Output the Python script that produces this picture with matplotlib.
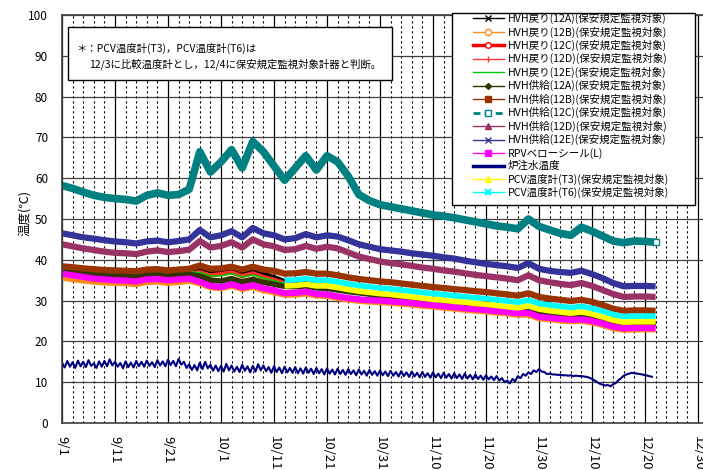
import matplotlib
matplotlib.use('Agg')
import matplotlib.pyplot as plt
from matplotlib.lines import Line2D
from matplotlib.patches import Rectangle
import numpy as np

plt.rcParams['font.family'] = ['Noto Sans CJK JP', 'DejaVu Sans']

# day offsets from 9/1
days = np.arange(0, 113, 2)          # 9/1 .. 12/22, every other day
days_pcv = np.arange(42, 113, 2)     # PCV thermometers from 10/13
days_water = np.arange(0, 112, 0.5)  # water temperature, twice a day

tick_days = np.arange(0, 121, 10)
tick_labels = ['9/1', '9/11', '9/21', '10/1', '10/11', '10/21', '10/31',
               '11/10', '11/20', '11/30', '12/10', '12/20', '12/30']

# HVH return temperatures
ret_12a = [37.6, 37.4, 37.1, 36.9, 36.7, 36.6, 36.5, 36.4, 36.8, 36.9,
           36.6, 36.8, 37.3, 37.9, 37.0, 37.4, 37.8, 36.9, 37.6, 36.6,
           35.8, 34.8, 34.2, 34.3, 33.8, 33.6, 33.1, 32.7, 32.3, 32.0,
           31.1, 30.9, 30.6, 30.3, 30.0, 29.7, 29.5, 29.2, 29.0, 28.7,
           28.5, 28.2, 27.9, 27.6, 28.1, 27.3, 26.9, 26.6, 26.3, 26.6,
           26.1, 25.4, 24.7, 24.2, 24.3, 24.3, 24.3]
ret_12b = [35.4, 35.0, 34.7, 34.4, 34.2, 34.1, 34.0, 33.8, 34.3, 34.4,
           34.1, 34.3, 34.6, 34.0, 33.0, 32.8, 33.4, 32.6, 33.1, 32.3,
           31.8, 31.2, 31.2, 31.5, 31.0, 30.9, 30.4, 30.0, 29.7, 29.5,
           29.4, 29.2, 29.0, 28.8, 28.5, 28.3, 28.0, 27.8, 27.5, 27.3,
           27.1, 26.8, 26.6, 26.3, 26.3, 25.4, 25.2, 24.9, 24.7, 24.8,
           24.4, 23.8, 23.0, 22.6, 22.7, 22.7, 22.7]
ret_12c = [37.0, 36.8, 36.5, 36.3, 36.1, 36.0, 35.9, 35.8, 36.2, 36.3,
           36.0, 36.2, 36.6, 37.0, 36.2, 36.5, 36.9, 36.0, 36.7, 35.8,
           35.1, 34.3, 33.9, 34.0, 33.5, 33.3, 32.9, 32.5, 32.1, 31.8,
           31.2, 31.0, 30.7, 30.4, 30.1, 29.8, 29.6, 29.3, 29.1, 28.8,
           28.6, 28.3, 28.0, 27.7, 28.2, 27.4, 27.0, 26.7, 26.4, 26.7,
           26.2, 25.5, 24.8, 24.3, 24.4, 24.4, 24.4]
ret_12d = [37.2, 37.0, 36.7, 36.5, 36.3, 36.2, 36.1, 36.0, 36.4, 36.5,
           36.2, 36.4, 36.8, 37.2, 36.4, 36.7, 37.1, 36.2, 36.9, 36.0,
           35.3, 34.5, 34.1, 34.2, 33.7, 33.5, 33.1, 32.7, 32.3, 32.0,
           31.3, 31.1, 30.8, 30.5, 30.2, 29.9, 29.7, 29.4, 29.2, 28.9,
           28.7, 28.4, 28.1, 27.8, 28.3, 27.5, 27.1, 26.8, 26.5, 26.8,
           26.3, 25.6, 24.9, 24.4, 24.5, 24.5, 24.5]
ret_12e = [37.5, 37.3, 37.0, 36.8, 36.6, 36.5, 36.4, 36.3, 36.7, 36.8,
           36.5, 36.7, 37.0, 36.9, 36.0, 36.1, 36.6, 35.8, 36.3, 35.5,
           34.9, 34.2, 33.9, 34.0, 33.5, 33.3, 32.9, 32.5, 32.1, 31.8,
           31.4, 31.2, 30.9, 30.6, 30.3, 30.0, 29.8, 29.5, 29.3, 29.0,
           28.8, 28.5, 28.2, 27.9, 28.4, 27.6, 27.2, 26.9, 26.6, 26.9,
           26.4, 25.7, 25.0, 24.5, 24.6, 24.6, 24.6]

# HVH supply temperatures
sup_12a = [37.0, 36.8, 36.5, 36.3, 36.1, 36.0, 35.9, 35.8, 36.2, 36.3,
           36.0, 36.2, 36.4, 36.0, 35.0, 34.8, 35.4, 34.6, 35.2, 34.5,
           34.0, 33.5, 33.4, 33.6, 33.1, 33.0, 32.6, 32.2, 31.9, 31.6,
           31.0, 30.8, 30.5, 30.2, 29.9, 29.6, 29.4, 29.1, 28.9, 28.6,
           28.4, 28.1, 27.8, 27.5, 28.0, 27.2, 26.8, 26.5, 26.2, 26.5,
           26.0, 25.3, 24.6, 24.1, 24.2, 24.2, 24.2]
sup_12b = [38.4, 38.2, 37.9, 37.7, 37.5, 37.4, 37.3, 37.2, 37.6, 37.7,
           37.4, 37.6, 37.8, 38.6, 37.8, 37.9, 38.3, 37.6, 38.3, 37.6,
           37.3, 36.6, 36.7, 37.0, 36.6, 36.6, 36.2, 35.7, 35.3, 35.0,
           34.7, 34.5, 34.2, 33.9, 33.6, 33.3, 33.1, 32.8, 32.6, 32.3,
           32.1, 31.8, 31.5, 31.2, 31.8, 30.9, 30.5, 30.2, 29.9, 30.2,
           29.7, 28.9, 28.0, 27.5, 27.6, 27.6, 27.5]
sup_12c = [58.2, 57.5, 56.6, 55.8, 55.3, 55.0, 54.8, 54.4, 55.8, 56.4,
           55.8, 56.0, 57.3, 66.5, 61.5, 64.0, 67.0, 62.5, 69.0, 66.5,
           63.0, 59.5, 62.5, 65.5, 62.0, 65.5, 64.0, 60.5, 56.0, 54.5,
           53.5, 53.0, 52.5, 52.0, 51.5, 51.0, 50.7, 50.3, 49.8, 49.3,
           48.8, 48.3, 48.0, 47.6, 50.0, 48.2, 47.3, 46.5, 46.0, 48.0,
           47.0, 45.8, 44.6, 44.2, 44.6, 44.5, 44.3]
sup_12d = [43.8, 43.3, 42.8, 42.4, 42.0, 41.7, 41.6, 41.4, 42.0, 42.3,
           41.9, 42.1, 42.5, 44.6, 43.0, 43.4, 44.3, 43.0, 45.0, 43.8,
           43.3, 42.4, 42.6, 43.4, 42.7, 43.2, 42.8, 41.8, 40.8, 40.2,
           39.6, 39.2, 38.9, 38.5, 38.1, 37.8, 37.4, 37.1, 36.7, 36.3,
           36.0, 35.7, 35.4, 35.0, 36.2, 35.0, 34.5, 34.1, 33.8, 34.3,
           33.6, 32.6, 31.6, 30.9, 31.0, 31.0, 30.9]
sup_12e = [46.5, 46.0, 45.5, 45.2, 44.8, 44.5, 44.3, 44.0, 44.5, 44.7,
           44.3, 44.6, 45.0, 47.3, 45.5, 46.0, 47.0, 45.5, 47.8, 46.5,
           46.0, 45.0, 45.3, 46.3, 45.5, 46.0, 45.7, 44.8, 43.8, 43.2,
           42.6, 42.3, 42.0, 41.6, 41.3, 41.0, 40.6, 40.3, 39.8, 39.4,
           39.0, 38.7, 38.4, 38.0, 39.2, 37.8, 37.3, 37.0, 36.8, 37.3,
           36.5, 35.5, 34.3, 33.5, 33.6, 33.6, 33.5]

rpv_bellows = [36.6, 36.2, 35.8, 35.4, 35.2, 35.0, 34.9, 34.7, 35.2, 35.3,
               35.0, 35.2, 35.4, 34.6, 33.6, 33.3, 34.0, 33.2, 33.8, 33.0,
               32.5, 31.8, 31.9, 32.2, 31.6, 31.5, 31.0, 30.6, 30.3, 30.1,
               30.0, 29.8, 29.6, 29.4, 29.1, 28.9, 28.6, 28.4, 28.1, 27.9,
               27.7, 27.4, 27.2, 26.9, 27.0, 26.0, 25.8, 25.5, 25.3, 25.4,
               25.0, 24.4, 23.6, 23.2, 23.3, 23.3, 23.2]

water = [14.8, 13.6, 15.2, 13.8, 14.9, 13.5, 15.3, 13.9, 15.0, 13.7, 15.4, 14.0, 14.6, 13.5, 15.1, 13.8, 15.2, 13.9, 15.6, 14.1,
         15.0, 13.8, 14.7, 13.4, 15.1, 13.7, 14.8, 13.6, 15.2, 13.9, 15.0, 13.8, 15.3, 14.0, 14.9, 13.7, 15.4, 14.1, 15.1, 13.9,
         15.5, 14.2, 15.2, 13.9, 15.7, 14.3, 15.0, 13.5, 14.4, 13.0, 14.2, 12.9, 14.8, 13.2, 15.0, 13.4, 14.3, 12.8, 14.1, 12.7,
         14.0, 12.6, 14.5, 12.9, 14.1, 12.6, 13.8, 12.5, 14.3, 12.8, 13.9, 12.4, 14.0, 12.6, 14.4, 12.9, 14.1, 12.7, 13.7, 12.3,
         13.9, 12.5, 13.6, 12.2, 13.8, 12.4, 13.5, 12.3, 13.7, 12.2, 13.4, 12.1, 13.6, 12.3, 13.3, 12.0, 13.5, 12.2, 13.2, 11.9,
         13.4, 12.1, 13.1, 11.9, 13.3, 12.0, 13.0, 11.8, 13.2, 12.0, 12.9, 11.7, 13.1, 11.9, 12.8, 11.6, 13.0, 11.8, 12.7, 11.6,
         12.9, 11.7, 12.6, 11.5, 12.8, 11.6, 12.5, 11.4, 12.7, 11.5, 12.4, 11.3, 12.6, 11.4, 12.3, 11.2, 12.5, 11.3, 12.2, 11.1,
         12.4, 11.2, 12.1, 11.0, 12.3, 11.1, 12.0, 10.9, 12.2, 11.0, 11.9, 10.8, 12.1, 10.9, 11.8, 10.7, 11.9, 10.8, 11.6, 10.6,
         11.7, 10.7, 11.4, 10.5, 11.5, 10.4, 11.0, 10.0, 10.4, 9.7, 10.8, 10.2, 11.5, 11.0, 12.0, 11.6, 12.4, 12.0, 12.9, 12.5,
         13.2, 12.6, 12.5, 12.0, 12.1, 11.9, 11.9, 11.8, 11.8, 11.7, 11.7, 11.6, 11.7, 11.5, 11.6, 11.5, 11.5, 11.4, 11.3, 11.1,
         10.8, 10.4, 10.0, 9.6, 9.4, 9.2, 9.3, 9.0, 9.5, 9.8, 10.5, 11.0, 11.6, 11.9, 12.1, 12.3, 12.2, 12.1, 12.0, 11.9,
         11.7, 11.6, 11.4, 11.3]

pcv_t3 = [33.6, 33.7, 34.0, 33.6, 33.6, 33.2, 32.7, 32.3, 32.0,
          31.7, 31.5, 31.2, 30.9, 30.6, 30.3, 30.1, 29.8, 29.6, 29.3,
          29.1, 28.8, 28.5, 28.2, 28.7, 27.9, 27.5, 27.2, 26.9, 27.2,
          26.7, 26.0, 25.2, 24.7, 24.8, 24.8, 24.8]
pcv_t6 = [35.0, 35.1, 35.4, 35.0, 35.0, 34.6, 34.1, 33.7, 33.4,
          33.1, 32.9, 32.6, 32.3, 32.0, 31.7, 31.5, 31.2, 31.0, 30.7,
          30.5, 30.2, 29.9, 29.6, 30.1, 29.3, 28.9, 28.6, 28.3, 28.6,
          28.1, 27.4, 26.6, 26.1, 26.2, 26.2, 26.2]

labels = ['HVH戻り(12A)(保安規定監視対象)', 'HVH戻り(12B)(保安規定監視対象)',
          'HVH戻り(12C)(保安規定監視対象)', 'HVH戻り(12D)(保安規定監視対象)',
          'HVH戻り(12E)(保安規定監視対象)', 'HVH供給(12A)(保安規定監視対象)',
          'HVH供給(12B)(保安規定監視対象)', 'HVH供給(12C)(保安規定監視対象)',
          'HVH供給(12D)(保安規定監視対象)', 'HVH供給(12E)(保安規定監視対象)',
          'RPVベローシール(L)', '炉注水温度',
          'PCV温度計(T3)(保安規定監視対象)', 'PCV温度計(T6)(保安規定監視対象)']

# (x, y, color, band width, legend style)
series = [
    (days, ret_12a, 'black', 3.0, dict(lw=1, marker='x', ms=4)),
    (days, ret_12b, '#FF8C1A', 3.0, dict(lw=1, marker='o', ms=4.5, mfc='white')),
    (days, ret_12c, '#FF0000', 3.0, dict(lw=2.5, marker='o', ms=4, mfc='white')),
    (days, ret_12d, '#FF3333', 1.5, dict(lw=1, marker='|', ms=5)),
    (days, ret_12e, '#00CC00', 1.2, dict(lw=1)),
    (days, sup_12a, '#333300', 4.0, dict(lw=1, marker='D', ms=3)),
    (days, sup_12b, '#993300', 4.5, dict(lw=1, marker='s', ms=5)),
    (days, sup_12c, '#008080', 5.5, dict(lw=2, ls=(0, (2.5, 1.5)), marker='s', ms=4.5, mfc='white')),
    (days, sup_12d, '#993366', 4.5, dict(lw=1, marker='^', ms=5)),
    (days, sup_12e, '#333399', 4.5, dict(lw=1, marker='x', ms=4)),
    (days, rpv_bellows, '#FF00FF', 4.5, dict(lw=1, marker='s', ms=5)),
    (days_water, water, '#000080', 1.5, dict(lw=2.5)),
    (days_pcv, pcv_t3, '#FFFF00', 4.0, dict(lw=1, marker='^', ms=5)),
    (days_pcv, pcv_t6, '#00FFFF', 4.0, dict(lw=1, marker='x', ms=5, mew=1.5)),
]

fig = plt.figure(figsize=(7.03, 4.70), dpi=100)
px = 5.3  # pixels per day
ax = fig.add_axes([62 / 703, 47 / 470, 122.4 * px / 703, 408 / 470])

for x, y, color, lw, _ in series:
    ax.plot(x, y, color=color, lw=lw, solid_joinstyle='round', solid_capstyle='butt')
# open square at the end of the 12C supply trace
ax.plot(days[-1:], sup_12c[-1:], 's', ms=5, mfc='white', mec='#008080', mew=1)

ax.set_xlim(0, 122.4)
ax.set_ylim(0, 100)
ax.set_xticks(tick_days)
ax.set_xticklabels(tick_labels, rotation=270, fontsize=9.5)
ax.set_xticks(np.arange(0, 123, 2), minor=True)
ax.set_yticks(np.arange(0, 101, 10))
ax.tick_params(axis='both', which='both', length=0)
ax.tick_params(axis='x', pad=9)
ax.tick_params(axis='y', labelsize=8.5, pad=10)

ax.set_axisbelow(True)
ax.grid(True, axis='x', which='major', color='black', lw=0.9)
ax.grid(True, axis='x', which='minor', color='black', lw=0.8, ls=(0, (2, 2.5)))
ax.grid(True, axis='y', which='major', color='#404040', lw=0.9)
for s in ['left', 'bottom', 'top']:
    ax.spines[s].set_color('#404040')
    ax.spines[s].set_linewidth(1.2)
ax.spines['right'].set_visible(False)

fig.text(25 / 703, 1 - 213 / 470, '温度(℃)', rotation=90, fontsize=9,
         ha='center', va='center')

# note box
fig.add_artist(Rectangle((68 / 703, 1 - 80 / 470), 324 / 703, 53 / 470,
                         transform=fig.transFigure, facecolor='white',
                         edgecolor='black', lw=1))
fig.text(76 / 703, 1 - 48 / 470, '＊：PCV温度計(T3)，PCV温度計(T6)は', fontsize=7.5,
         ha='left', va='center')
fig.text(89 / 703, 1 - 64 / 470, '12/3に比較温度計とし，12/4に保安規定監視対象計器と判断。',
         fontsize=7.5, ha='left', va='center')

# legend
fig.add_artist(Rectangle((452 / 703, 1 - 205 / 470), 243 / 703, 192 / 470,
                         transform=fig.transFigure, facecolor='white',
                         edgecolor='black', lw=1))
handles = [Line2D([], [], color=c, **st) for _, _, c, _, st in series]
fig.legend(handles, labels, loc='upper left', bbox_to_anchor=(473 / 703, 1 - 13 / 470),
           fontsize=7.6, frameon=False, borderpad=0, borderaxespad=0,
           handlelength=2.9, handletextpad=0.4, labelspacing=0.22)

fig.savefig('out.png', dpi=100)
